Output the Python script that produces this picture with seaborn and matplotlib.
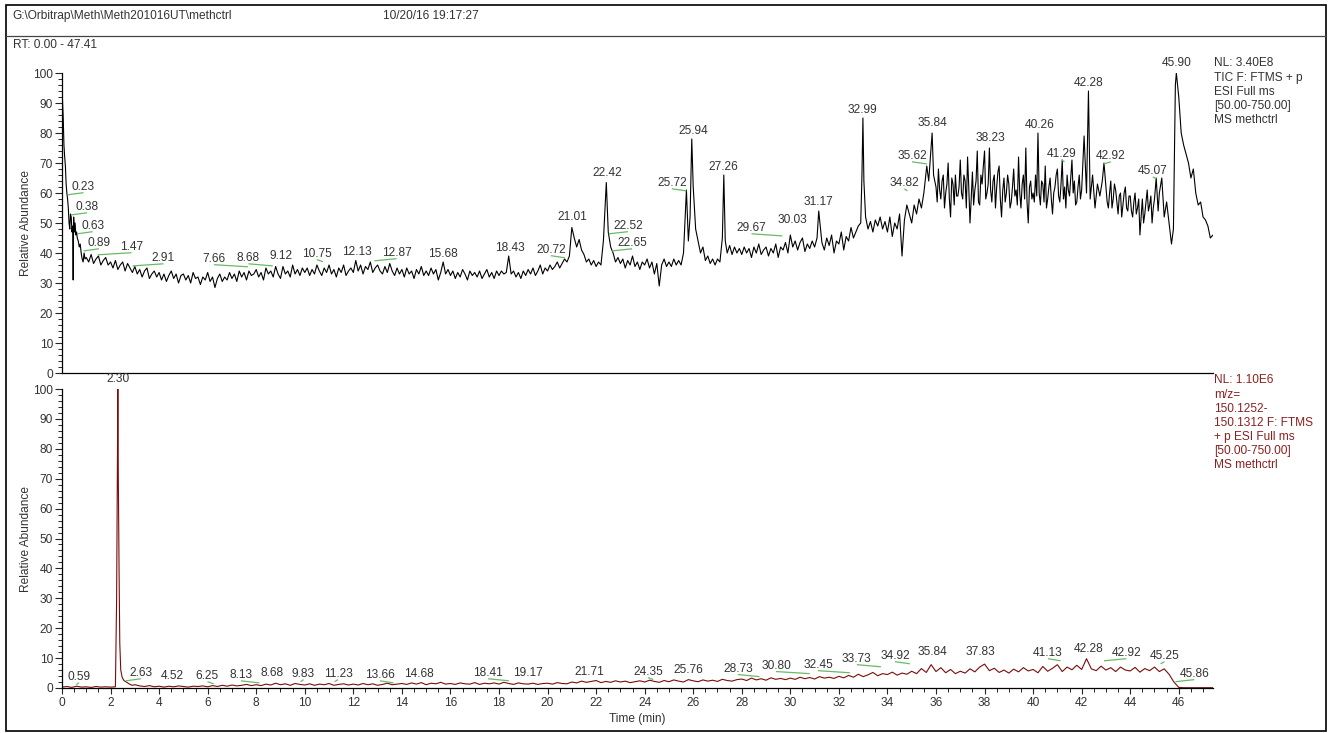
import matplotlib
matplotlib.use("Agg")
import matplotlib.pyplot as plt
import seaborn as sns
import pandas as pd
from matplotlib.patches import Rectangle
from matplotlib.lines import Line2D

# ---------------- data ----------------
tic_time = [
    0.00, 0.02, 0.05, 0.08, 0.11, 0.14, 0.17, 0.20, 0.23, 0.26, 0.29, 0.32, 0.35, 0.38, 0.41, 0.44,
    0.46, 0.48, 0.51, 0.54, 0.57, 0.60, 0.63, 0.67, 0.71, 0.75, 0.79, 0.83, 0.87, 0.91, 0.95,
    1.0, 1.1, 1.2, 1.3, 1.4, 1.5, 1.6, 1.7, 1.8, 1.9,
    2.0, 2.1, 2.2, 2.3, 2.4, 2.5, 2.6, 2.7, 2.8, 2.9,
    3.0, 3.1, 3.2, 3.3, 3.4, 3.5, 3.6, 3.7, 3.8, 3.9,
    4.0, 4.1, 4.2, 4.3, 4.4, 4.5, 4.6, 4.7, 4.8, 4.9,
    5.0, 5.1, 5.2, 5.3, 5.4, 5.5, 5.6, 5.7, 5.8, 5.9,
    6.0, 6.1, 6.2, 6.3, 6.4, 6.5, 6.6, 6.7, 6.8, 6.9,
    7.0, 7.1, 7.2, 7.3, 7.4, 7.5, 7.6, 7.7, 7.8, 7.9,
    8.0, 8.1, 8.2, 8.3, 8.4, 8.5, 8.6, 8.7, 8.8, 8.9,
    9.0, 9.1, 9.2, 9.3, 9.4, 9.5, 9.6, 9.7, 9.8, 9.9,
    10.0, 10.1, 10.2, 10.3, 10.4, 10.5, 10.6, 10.7, 10.8, 10.9,
    11.0, 11.1, 11.2, 11.3, 11.4, 11.5, 11.6, 11.7, 11.8, 11.9,
    12.0, 12.1, 12.2, 12.3, 12.4, 12.5, 12.6, 12.7, 12.8, 12.9,
    13.0, 13.1, 13.2, 13.3, 13.4, 13.5, 13.6, 13.7, 13.8, 13.9,
    14.0, 14.1, 14.2, 14.3, 14.4, 14.5, 14.6, 14.7, 14.8, 14.9,
    15.0, 15.1, 15.2, 15.3, 15.4, 15.5, 15.6, 15.7, 15.8, 15.9,
    16.0, 16.1, 16.2, 16.3, 16.4, 16.5, 16.6, 16.7, 16.8, 16.9,
    17.0, 17.1, 17.2, 17.3, 17.4, 17.5, 17.6, 17.7, 17.8, 17.9,
    18.0, 18.1, 18.2, 18.3, 18.4, 18.5, 18.6, 18.7, 18.8, 18.9,
    19.0, 19.1, 19.2, 19.3, 19.4, 19.5, 19.6, 19.7, 19.8, 19.9,
    20.0, 20.1, 20.2, 20.3, 20.4, 20.5, 20.6, 20.7, 20.8, 20.9,
    21.0, 21.1, 21.2, 21.3, 21.4, 21.5, 21.6, 21.7, 21.8, 21.9,
    22.0, 22.1, 22.2, 22.3, 22.42, 22.5, 22.6, 22.7, 22.8, 22.9,
    23.0, 23.1, 23.2, 23.3, 23.4, 23.5, 23.6, 23.7, 23.8, 23.9,
    24.0, 24.1, 24.2, 24.3, 24.4, 24.5, 24.6, 24.7, 24.8, 24.9,
    25.0, 25.1, 25.2, 25.3, 25.4, 25.5, 25.6, 25.72, 25.8, 25.87, 25.94,
    26.0, 26.1, 26.2, 26.3, 26.4, 26.5, 26.6, 26.7, 26.8, 26.9,
    27.0, 27.1, 27.2, 27.26, 27.32, 27.4, 27.5, 27.6, 27.7, 27.8, 27.9,
    28.0, 28.1, 28.2, 28.3, 28.4, 28.5, 28.6, 28.7, 28.8, 28.9,
    29.0, 29.1, 29.2, 29.3, 29.4, 29.5, 29.6, 29.7, 29.8, 29.9,
    30.0, 30.1, 30.2, 30.3, 30.4, 30.5, 30.6, 30.7, 30.8, 30.9,
    31.0, 31.1, 31.17, 31.3, 31.4, 31.5, 31.6, 31.7, 31.8, 31.9,
    32.0, 32.1, 32.2, 32.3, 32.4, 32.5, 32.6, 32.7, 32.8, 32.9, 32.95, 32.99, 33.03,
    33.1, 33.2, 33.3, 33.4, 33.5, 33.6, 33.7, 33.8, 33.9,
    34.0, 34.1, 34.2, 34.3, 34.4, 34.5, 34.6, 34.7, 34.8, 34.9,
    35.0, 35.1, 35.2, 35.3, 35.4, 35.5, 35.62, 35.7, 35.84, 35.9,
    36.00, 36.05, 36.10, 36.15, 36.20, 36.25, 36.30, 36.35, 36.40, 36.45,
    36.50, 36.55, 36.60, 36.65, 36.70, 36.75, 36.80, 36.85, 36.90, 36.95,
    37.00, 37.05, 37.10, 37.15, 37.20, 37.25, 37.30, 37.35, 37.40, 37.45,
    37.50, 37.55, 37.60, 37.65, 37.70, 37.75, 37.80, 37.85, 37.90, 37.95,
    38.00, 38.05, 38.10, 38.15, 38.20, 38.25, 38.30, 38.35, 38.40, 38.45,
    38.50, 38.55, 38.60, 38.65, 38.70, 38.75, 38.80, 38.85, 38.90, 38.95,
    39.00, 39.05, 39.10, 39.15, 39.20, 39.25, 39.30, 39.35, 39.40, 39.45,
    39.50, 39.55, 39.60, 39.65, 39.70, 39.75, 39.80, 39.85, 39.90, 39.95,
    40.00, 40.05, 40.10, 40.15, 40.20, 40.25, 40.30, 40.35, 40.40, 40.45,
    40.50, 40.55, 40.60, 40.65, 40.70, 40.75, 40.80, 40.85, 40.90, 40.95,
    41.00, 41.05, 41.10, 41.15, 41.20, 41.25, 41.30, 41.35, 41.40, 41.45,
    41.50, 41.55, 41.60, 41.65, 41.70, 41.75, 41.80, 41.85, 41.90, 41.95,
    42.0, 42.1, 42.2, 42.28, 42.35, 42.45, 42.55, 42.65, 42.75, 42.85, 42.92,
    43.00, 43.05, 43.10, 43.15, 43.20, 43.25, 43.30, 43.35, 43.40, 43.45,
    43.50, 43.55, 43.60, 43.65, 43.70, 43.75, 43.80, 43.85, 43.90, 43.95,
    44.00, 44.05, 44.10, 44.15, 44.20, 44.25, 44.30, 44.35, 44.40, 44.45,
    44.50, 44.55, 44.60, 44.65, 44.70, 44.75, 44.80, 44.85, 44.90, 44.95,
    45.0, 45.07, 45.15, 45.2, 45.3, 45.4, 45.5, 45.6, 45.7, 45.78, 45.86, 45.9,
    46.0, 46.1, 46.2, 46.3, 46.4, 46.5, 46.6, 46.7, 46.8, 46.9,
    47.0, 47.1, 47.2, 47.3, 47.41,
]
tic_value = [
    92, 91, 85, 76, 72, 69, 63, 60, 58, 55, 50, 48, 53, 52, 47, 49,
    31, 52, 47, 50, 46, 47, 45, 44, 42, 43, 40, 38, 37, 40, 38,
    38.5, 37, 39.5, 36.5, 38, 39, 36, 37.5, 38.5, 36,
    37, 35, 37.5, 34.5, 36, 37, 34, 36.5, 35, 33.5,
    35.5, 33, 34.5, 32, 34, 35, 31.5, 33, 34, 32,
    33.5, 31, 33, 30.5, 32.5, 34, 31.5, 33, 30, 32.5,
    33, 31, 32.5, 30, 33.5, 31.5, 32, 29.5, 32, 31,
    33.5, 30.5, 32, 28.5, 31.5, 33, 30.5, 32, 31, 33.5,
    31.5, 33, 30.5, 34, 32, 33.5, 31, 34, 32.5, 33,
    34.5, 32, 33.5, 31, 35, 33, 34, 32, 35.5, 33,
    31.5, 35.5, 33, 34, 32, 36, 33, 34.5, 32.5, 35,
    33.5, 35, 32.5, 34.5, 33, 36, 34, 32.5, 35, 33.5,
    36, 33, 34.5, 32, 35, 33.5, 36, 32.5, 34, 35,
    33.5, 37.5, 34, 36, 33, 35.5, 34.5, 37, 33.5, 35,
    36, 34, 33, 35.5, 33.5, 36.5, 34, 32.5, 35, 33,
    34.5, 32, 35, 33, 34, 31.5, 34.5, 33, 35.5, 32.5,
    34, 32.5, 35, 33, 34.5, 31, 33.5, 37, 33, 34.5,
    32.5, 34, 31.5, 33.5, 32, 34.5, 33, 31, 34, 32.5,
    33.5, 32, 34, 31.5, 33, 34.5, 32, 33.5, 31.5, 34,
    32.5, 34, 33, 33.5, 39, 33, 34, 32, 33.5, 31.5,
    34, 32.5, 34.5, 33, 35, 32.5, 34, 36, 33, 35,
    34, 36, 34.5, 35.5, 37, 35, 36.5, 38, 37, 39,
    48.5, 45, 42, 44.5, 41, 39.5, 37, 38, 36, 37.5,
    35.5, 37, 36, 44, 63.5, 47, 42, 40, 37, 38.5,
    36.5, 38, 35, 37.5, 36, 39, 35.5, 37, 34.5, 37,
    36, 38, 35, 37, 33, 36.5, 29, 36, 38, 35.5,
    37, 35.5, 38, 36, 37.5, 36, 40, 61, 44, 52, 78,
    62, 48, 44, 40, 42, 37.5, 39, 36.5, 38, 36,
    38, 37, 45, 66, 44, 40, 42.5, 39.5, 42, 40, 41.5,
    39.5, 42, 40, 41.5, 38.5, 42, 40, 43, 39.5, 41,
    42, 39, 41.5, 40, 43, 38.5, 42, 41, 43.5, 40,
    46, 42, 44, 41, 43.5, 45, 40.5, 43, 41.5, 44,
    42, 45, 54, 43.5, 41, 45, 42.5, 46, 40, 44,
    43, 47, 41, 45.5, 44, 48.5, 45, 47, 49, 50, 66, 85, 64,
    52, 48, 50.5, 47, 51, 49, 52, 48, 50.5,
    47, 52, 45.5, 50, 48, 53, 39, 51, 56, 53,
    50, 56, 53, 58, 55, 60, 69, 64, 80, 66,
    62, 57, 68, 61, 58, 64, 66, 55, 60, 63,
    70, 58, 52, 65, 63, 56, 66, 59, 59, 62,
    71, 60, 58, 66, 64, 55, 72, 62, 50, 58,
    67, 56, 61, 64, 74, 57, 56, 66, 63, 69,
    74, 58, 60, 63, 75, 61, 57, 64, 66, 55,
    62, 67, 69, 58, 52, 61, 65, 57, 60, 66,
    63, 55, 57, 62, 68, 59, 61, 56, 72, 60,
    55, 63, 66, 58, 75, 57, 50, 62, 64, 58,
    60, 57, 66, 59, 80, 60, 56, 64, 63, 57,
    69, 55, 58, 62, 65, 58, 53, 60, 62, 66,
    68, 59, 57, 63, 71, 58, 62, 55, 66, 61,
    59, 65, 71, 60, 64, 56, 57, 62, 66, 58,
    61, 79, 60, 94, 58, 66, 55, 63, 59, 64, 70,
    62, 57, 55, 60, 64, 55, 58, 63, 61, 57,
    53, 59, 60, 52, 56, 60, 62, 55, 54, 59,
    59, 54, 52, 57, 60, 53, 55, 58, 46, 52,
    58, 50, 53, 57, 61, 54, 56, 59, 50, 55,
    58, 65, 54, 60, 65, 52, 57, 50, 43, 48, 96, 100,
    92, 80, 76, 73, 70, 65, 68, 60, 56, 57,
    52, 51, 49, 45, 46,
]

xic_time = [
    0.0, 0.2, 0.4, 0.6, 0.8, 1.0, 1.2, 1.4, 1.6, 1.8, 2.0, 2.2,
    2.25, 2.28, 2.30, 2.32, 2.35, 2.38, 2.42, 2.48, 2.55, 2.65, 2.8, 2.9, 3.0,
    3.2, 3.4, 3.6, 3.8, 4.0, 4.2, 4.4, 4.6, 4.8, 5.0, 5.2, 5.4, 5.6, 5.8,
    6.0, 6.2, 6.4, 6.6, 6.8, 7.0, 7.2, 7.4, 7.6, 7.8,
    8.0, 8.2, 8.4, 8.6, 8.8, 9.0, 9.2, 9.4, 9.6, 9.8,
    10.0, 10.2, 10.4, 10.6, 10.8, 11.0, 11.2, 11.4, 11.6, 11.8,
    12.0, 12.2, 12.4, 12.6, 12.8, 13.0, 13.2, 13.4, 13.6, 13.8,
    14.0, 14.2, 14.4, 14.6, 14.8, 15.0, 15.2, 15.4, 15.6, 15.8,
    16.0, 16.2, 16.4, 16.6, 16.8, 17.0, 17.2, 17.4, 17.6, 17.8,
    18.0, 18.2, 18.4, 18.6, 18.8, 19.0, 19.2, 19.4, 19.6, 19.8,
    20.0, 20.2, 20.4, 20.6, 20.8, 21.0, 21.2, 21.4, 21.6, 21.8,
    22.0, 22.2, 22.4, 22.6, 22.8, 23.0, 23.2, 23.4, 23.6, 23.8,
    24.0, 24.2, 24.4, 24.6, 24.8, 25.0, 25.2, 25.4, 25.6, 25.8,
    26.0, 26.2, 26.4, 26.6, 26.8, 27.0, 27.2, 27.4, 27.6, 27.8,
    28.0, 28.2, 28.4, 28.6, 28.8, 29.0, 29.2, 29.4, 29.6, 29.8,
    30.0, 30.2, 30.4, 30.6, 30.8, 31.0, 31.2, 31.4, 31.6, 31.8,
    32.0, 32.2, 32.4, 32.6, 32.8, 33.0, 33.2, 33.4, 33.6, 33.8,
    34.0, 34.2, 34.4, 34.6, 34.8, 35.0, 35.2, 35.4, 35.6, 35.8,
    36.0, 36.2, 36.4, 36.6, 36.8, 37.0, 37.2, 37.4, 37.6, 37.8,
    38.0, 38.2, 38.4, 38.6, 38.8, 39.0, 39.2, 39.4, 39.6, 39.8,
    40.0, 40.2, 40.4, 40.6, 40.8, 41.0, 41.2, 41.4, 41.6, 41.8,
    42.0, 42.2, 42.4, 42.6, 42.8, 43.0, 43.2, 43.4, 43.6, 43.8,
    44.0, 44.2, 44.4, 44.6, 44.8, 45.0, 45.2, 45.4, 45.6, 45.8,
    46.0, 46.2, 46.4, 46.6, 46.8, 47.0, 47.2, 47.41,
]
xic_value = [
    0.3, 0.5, 0.2, 0.6, 0.3, 0.4, 0.2, 0.5, 0.3, 0.4, 0.3, 0.4,
    30, 70, 100, 70, 40, 15, 6, 3.5, 2.5, 2.0, 1.2, 0.9, 1.1,
    0.7, 0.5, 0.8, 0.4, 0.6, 0.3, 0.6, 0.4, 0.7, 0.5, 0.3, 0.6, 0.5, 0.7,
    0.4, 0.8, 0.5, 0.9, 0.6, 1.0, 0.7, 0.9, 1.2, 0.8,
    1.1, 0.8, 1.3, 1.0, 1.6, 1.1, 1.4, 0.9, 1.5, 1.2,
    1.0, 1.4, 0.9, 1.3, 1.1, 1.5, 0.9, 1.2, 1.4, 1.0,
    1.3, 1.0, 1.5, 1.1, 1.4, 0.9, 1.2, 1.6, 1.1, 1.3,
    1.5, 1.2, 1.7, 1.3, 1.8, 1.1, 1.6, 1.4, 1.9, 1.3,
    1.5, 1.2, 1.7, 1.4, 1.3, 1.8, 1.2, 1.6, 1.4, 1.7,
    1.3, 1.9, 1.5, 1.2, 1.7, 1.4, 1.3, 1.6, 1.2, 1.5,
    1.6, 1.3, 1.8, 1.5, 1.4, 2.0, 1.7, 2.3, 1.9, 2.2,
    2.5, 1.8, 2.2, 1.9, 2.4, 2.0, 2.3, 1.8, 2.1, 2.4,
    2.0, 2.6, 2.2, 1.9, 2.5, 2.1, 2.7, 2.3, 2.0, 2.8,
    2.4, 2.1, 2.7, 2.3, 2.6, 2.2, 2.9, 2.5, 2.3, 2.8,
    3.0, 2.5, 3.3, 2.7, 3.1, 2.6, 3.4, 2.9, 3.2, 2.8,
    3.3, 2.9, 3.6, 3.1, 3.5, 3.0, 3.8, 3.3, 3.6, 3.2,
    3.9, 3.4, 4.2, 3.6, 4.6, 3.8, 4.4, 5.2, 4.1, 4.8,
    4.5, 5.3, 4.3, 5.0, 4.6, 5.6, 4.8, 6.5, 5.2, 7.8,
    5.5, 6.8, 5.1, 6.2, 4.8, 5.6, 5.0, 6.4, 5.4, 7.0,
    8.0, 5.8, 6.6, 5.2, 6.0, 5.0, 6.3, 5.4, 6.8, 5.7,
    6.2, 5.1, 7.2, 5.6, 6.6, 7.8, 5.5, 7.0, 6.1, 7.6,
    6.2, 9.8, 6.4, 5.8, 7.3, 6.0, 6.8, 5.5, 7.0, 6.0,
    5.7, 6.9, 5.3, 6.5, 5.8, 7.0, 5.5, 6.4, 4.6, 2.0,
    0.2, 0.1, 0.1, 0.1, 0.1, 0.1, 0.1, 0.1,
]

tic_labels = ["0.23", "0.38", "0.63", "0.89", "1.47", "2.91", "7.66", "8.68", "9.12",
              "10.75", "12.13", "12.87", "15.68", "18.43", "20.72", "21.01", "22.42",
              "22.52", "22.65", "25.72", "25.94", "27.26", "29.67", "30.03", "31.17",
              "32.99", "34.82", "35.62", "35.84", "38.23", "40.26", "41.29", "42.28",
              "42.92", "45.07", "45.90"]
tic_label_x = [0.885, 1.03, 1.26, 1.52, 2.86, 4.18, 6.26, 7.68, 9.02,
               10.50, 12.15, 13.78, 15.71, 18.47, 20.14, 21.03, 22.47,
               23.31, 23.48, 25.12, 25.99, 27.26, 28.40, 30.07, 31.14,
               32.99, 34.70, 35.01, 35.85, 38.26, 40.26, 41.17, 42.28,
               43.20, 44.93, 45.92]
tic_label_y = [62.0, 55.3, 49.0, 43.3, 42.0, 38.3, 38.0, 38.3, 39.0,
               39.7, 40.3, 40.0, 39.7, 41.7, 41.0, 52.0, 66.7,
               49.0, 43.3, 63.3, 80.7, 68.7, 48.3, 51.0, 57.0,
               87.7, 63.3, 72.3, 83.3, 78.3, 82.7, 73.0, 96.7,
               72.3, 67.3, 103.3]

xic_labels = ["2.30", "0.59", "2.63", "4.52", "6.25", "8.13", "8.68", "9.83", "11.23",
              "13.66", "14.68", "18.41", "19.17", "21.71", "24.35", "25.76", "28.73",
              "30.80", "32.45", "33.73", "34.92", "35.84", "37.83", "41.13", "42.28",
              "42.92", "45.25", "45.86"]
xic_label_x = [2.31, 0.70, 3.25, 4.53, 5.99, 7.37, 8.67, 9.95, 11.37,
               13.10, 14.72, 17.55, 19.19, 21.73, 24.14, 25.78, 27.84,
               29.41, 31.14, 32.74, 34.31, 35.85, 37.85, 40.61, 42.28,
               43.84, 45.41, 46.64]
xic_label_y = [103.3, 3.7, 5.0, 4.0, 4.0, 4.3, 5.0, 4.7, 4.7,
               4.3, 4.7, 5.0, 5.0, 5.4, 5.4, 6.0, 6.4,
               7.4, 7.7, 9.7, 10.7, 12.0, 12.0, 11.7, 13.0,
               11.7, 10.7, 4.7]

tic_info = ["NL: 3.40E8", "TIC F: FTMS + p", "ESI Full ms", "[50.00-750.00]", "MS methctrl"]
xic_info = ["NL: 1.10E6", "m/z=", "150.1252-", "150.1312 F: FTMS", "+ p ESI Full ms",
            "[50.00-750.00]", "MS methctrl"]
header_path = "G:\\Orbitrap\\Meth\\Meth201016UT\\methctrl"
header_date = "10/20/16 19:17:27"
header_rt = "RT: 0.00 - 47.41"

assert len(tic_time) == len(tic_value), (len(tic_time), len(tic_value))
assert len(xic_time) == len(xic_value), (len(xic_time), len(xic_value))

# ---------------- style ----------------
sns.set_style("ticks")
plt.rcParams['font.family'] = ['Liberation Sans', 'DejaVu Sans']
FS = 8.6
TXT = '#333333'
GREEN = '#66bb66'
MAROON = '#7a0c0c'

W, H = 1336, 733
fig = plt.figure(figsize=(W / 100, H / 100), dpi=100)
fig.patch.set_facecolor('white')

L = 62 / W
AW = 1151 / W
ax_top = fig.add_axes([L, (H - 373) / H, AW, 300 / H])
ax_bot = fig.add_axes([L, (H - 688) / H, AW, 299 / H])

tic_df = pd.DataFrame({"time": tic_time, "value": tic_value})
xic_df = pd.DataFrame({"time": xic_time, "value": xic_value})

sns.lineplot(data=tic_df, x="time", y="value", ax=ax_top, color='black',
             linewidth=0.8, estimator=None, sort=False)
sns.lineplot(data=xic_df, x="time", y="value", ax=ax_bot, color=MAROON,
             linewidth=0.8, estimator=None, sort=False)

for ax in (ax_top, ax_bot):
    ax.set_xlim(0, 47.41)
    ax.set_ylim(0, 100)
    ax.set_facecolor('white')
    for s in ('top', 'right'):
        ax.spines[s].set_visible(False)
    for s in ('left', 'bottom'):
        ax.spines[s].set_linewidth(0.9)
        ax.spines[s].set_color('black')
    ax.set_yticks(range(0, 101, 10))
    ax.set_yticks(range(0, 101, 2), minor=True)
    ax.tick_params(axis='y', which='major', direction='out', length=5, width=0.8,
                   pad=1.5, labelsize=FS, labelcolor=TXT)
    ax.tick_params(axis='y', which='minor', direction='out', length=2.6, width=0.7)
    ax.set_ylabel("Relative Abundance", fontsize=FS, color=TXT)
    ax.yaxis.set_label_coords(-0.026, 0.5)
    ax.set_xlabel("")

ax_top.tick_params(axis='x', which='both', bottom=False, labelbottom=False)
ax_bot.set_xticks(range(0, 47, 2))
ax_bot.set_xticks([i * 0.5 for i in range(0, 95)], minor=True)
ax_bot.tick_params(axis='x', which='major', direction='out', length=4.3, width=0.8,
                   pad=2, labelsize=FS, labelcolor=TXT)
ax_bot.tick_params(axis='x', which='minor', direction='out', length=3, width=0.7)
ax_bot.set_xlabel("Time (min)", fontsize=FS, color=TXT)
ax_bot.xaxis.set_label_coords(0.5, -0.084)


def draw_labels(ax, labels, lx, ly):
    for lab, x, y in zip(labels, lx, ly):
        peak = float(lab)
        if abs(x - peak) > 0.1:
            ax.plot([x, peak], [y - 1.9, y - 2.6], color=GREEN, linewidth=0.9,
                    solid_capstyle='butt', clip_on=False)
        ax.text(x, y, lab, ha='center', va='center', fontsize=FS, color=TXT, clip_on=False)


draw_labels(ax_top, tic_labels, tic_label_x, tic_label_y)
draw_labels(ax_bot, xic_labels, xic_label_x, xic_label_y)

# right-hand info text
for line, py in zip(tic_info, [63, 78, 92, 106, 120]):
    fig.text(1214 / W, 1 - py / H, line, ha='left', va='center', fontsize=FS, color=TXT)
for line, py in zip(xic_info, [380, 395, 409, 423, 437, 451, 465]):
    fig.text(1214 / W, 1 - py / H, line, ha='left', va='center', fontsize=FS, color='#8b2020')

# header
fig.text(12 / W, 1 - 16 / H, header_path, ha='left', va='center', fontsize=FS, color=TXT)
fig.text(383 / W, 1 - 16 / H, header_date, ha='left', va='center', fontsize=FS, color=TXT)
fig.text(13 / W, 1 - 45 / H, header_rt, ha='left', va='center', fontsize=FS, color=TXT)

fig.add_artist(Rectangle((6 / W, 1 - 731 / H), (1326 - 6) / W, (731 - 5) / H,
                         transform=fig.transFigure, fill=False, edgecolor='black', linewidth=1.2))
fig.add_artist(Line2D([6 / W, 1326 / W], [1 - 36 / H, 1 - 36 / H],
                      transform=fig.transFigure, color='#444444', linewidth=0.9))

fig.savefig("out.png", dpi=100, facecolor='white')
